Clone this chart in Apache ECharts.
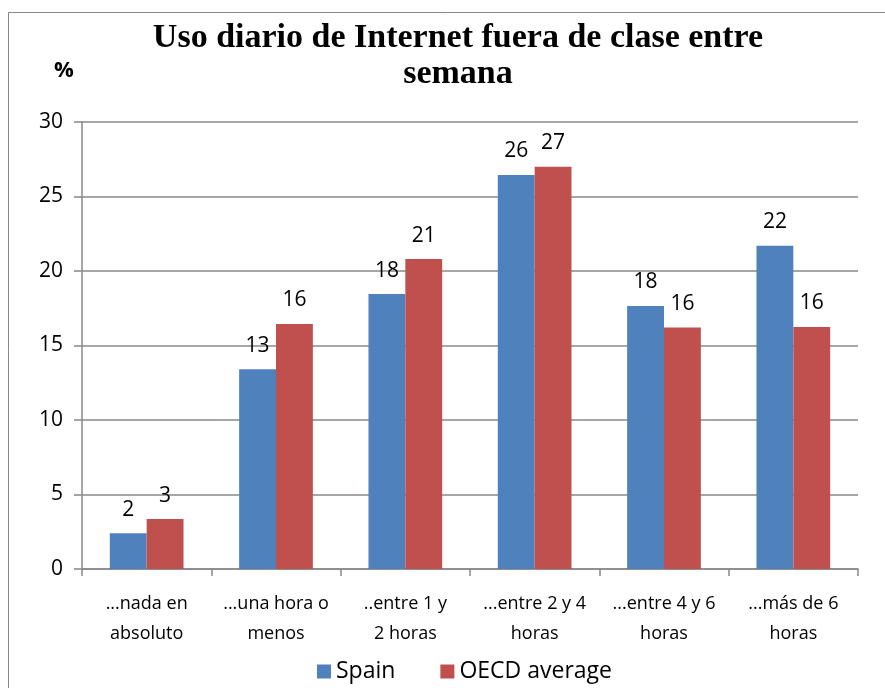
<!DOCTYPE html>
<html>
<head>
<meta charset="utf-8">
<script src="https://cdn.jsdelivr.net/npm/echarts@6/dist/echarts.min.js"></script>
<style>html,body{margin:0;padding:0;background:#fff}#c{width:885px;height:688px}</style>
</head>
<body>
<div id="c"></div>
<script>
const categories = ["...nada en\nabsoluto", "...una hora o\nmenos", "..entre 1 y\n2 horas", "...entre 2 y 4\nhoras", "...entre 4 y 6\nhoras", "...más de 6\nhoras"];
const spain = [2.4, 13.4, 18.45, 26.45, 17.65, 21.7];
const oecd = [3.35, 16.45, 20.8, 27.0, 16.2, 16.25];
const yTicks = [0, 5, 10, 15, 20, 25, 30];

const chart = echarts.init(document.getElementById('c'), null, {renderer: 'canvas'});
const labelFont = {show: true, position: 'top', distance: 13, fontFamily: 'Open Sans', fontSize: 21, color: '#000',
  formatter: p => Math.round(p.value)};
chart.setOption({
  animation: false,
  backgroundColor: '#fff',
  graphic: [
    {type: 'rect', left: 6, top: 10, shape: {width: 890, height: 700}, style: {fill: 'none', stroke: '#888', lineWidth: 1}, silent: true},
    {type: 'text', left: 54, top: 60, style: {text: '%', font: 'bold 22px "Open Sans"', fill: '#000'}}
  ],
  title: {
    text: 'Uso diario de Internet fuera de clase entre\nsemana',
    left: 453, top: 15, textAlign: 'center',
    textStyle: {fontFamily: 'Liberation Serif', fontWeight: 'bold', fontSize: 34, lineHeight: 36, color: '#000'}
  },
  legend: {
    data: ['Spain', 'OECD average'],
    top: 655, left: 312,
    itemWidth: 14, itemHeight: 14, itemGap: 45, icon: 'rect',
    textStyle: {fontFamily: 'Open Sans', fontSize: 23, color: '#000'}
  },
  grid: {left: 82, right: 27, top: 122, bottom: 119},
  xAxis: {
    type: 'category', data: categories,
    axisLine: {lineStyle: {color: '#888', width: 1.5}},
    axisTick: {show: true, length: 7, lineStyle: {color: '#888', width: 1.5}},
    axisLabel: {fontFamily: 'Open Sans', fontSize: 18, color: '#000', lineHeight: 30, margin: 20, interval: 0}
  },
  yAxis: {
    type: 'value', min: 0, max: 30, interval: 5,
    axisLine: {show: true, lineStyle: {color: '#888', width: 1.5}},
    axisTick: {show: true, length: 8, lineStyle: {color: '#888', width: 1.5}},
    axisLabel: {fontFamily: 'Open Sans', fontSize: 21, color: '#000', margin: 19,
      formatter: v => yTicks.includes(v) ? String(v) : ''},
    splitLine: {lineStyle: {color: '#888', width: 1.5}}
  },
  series: [
    {name: 'Spain', type: 'bar', data: spain, barGap: '0%', barCategoryGap: '43%',
      itemStyle: {color: '#4F81BD'}, label: labelFont},
    {name: 'OECD average', type: 'bar', data: oecd,
      itemStyle: {color: '#C0504D'}, label: labelFont}
  ]
});
</script>
</body>
</html>
